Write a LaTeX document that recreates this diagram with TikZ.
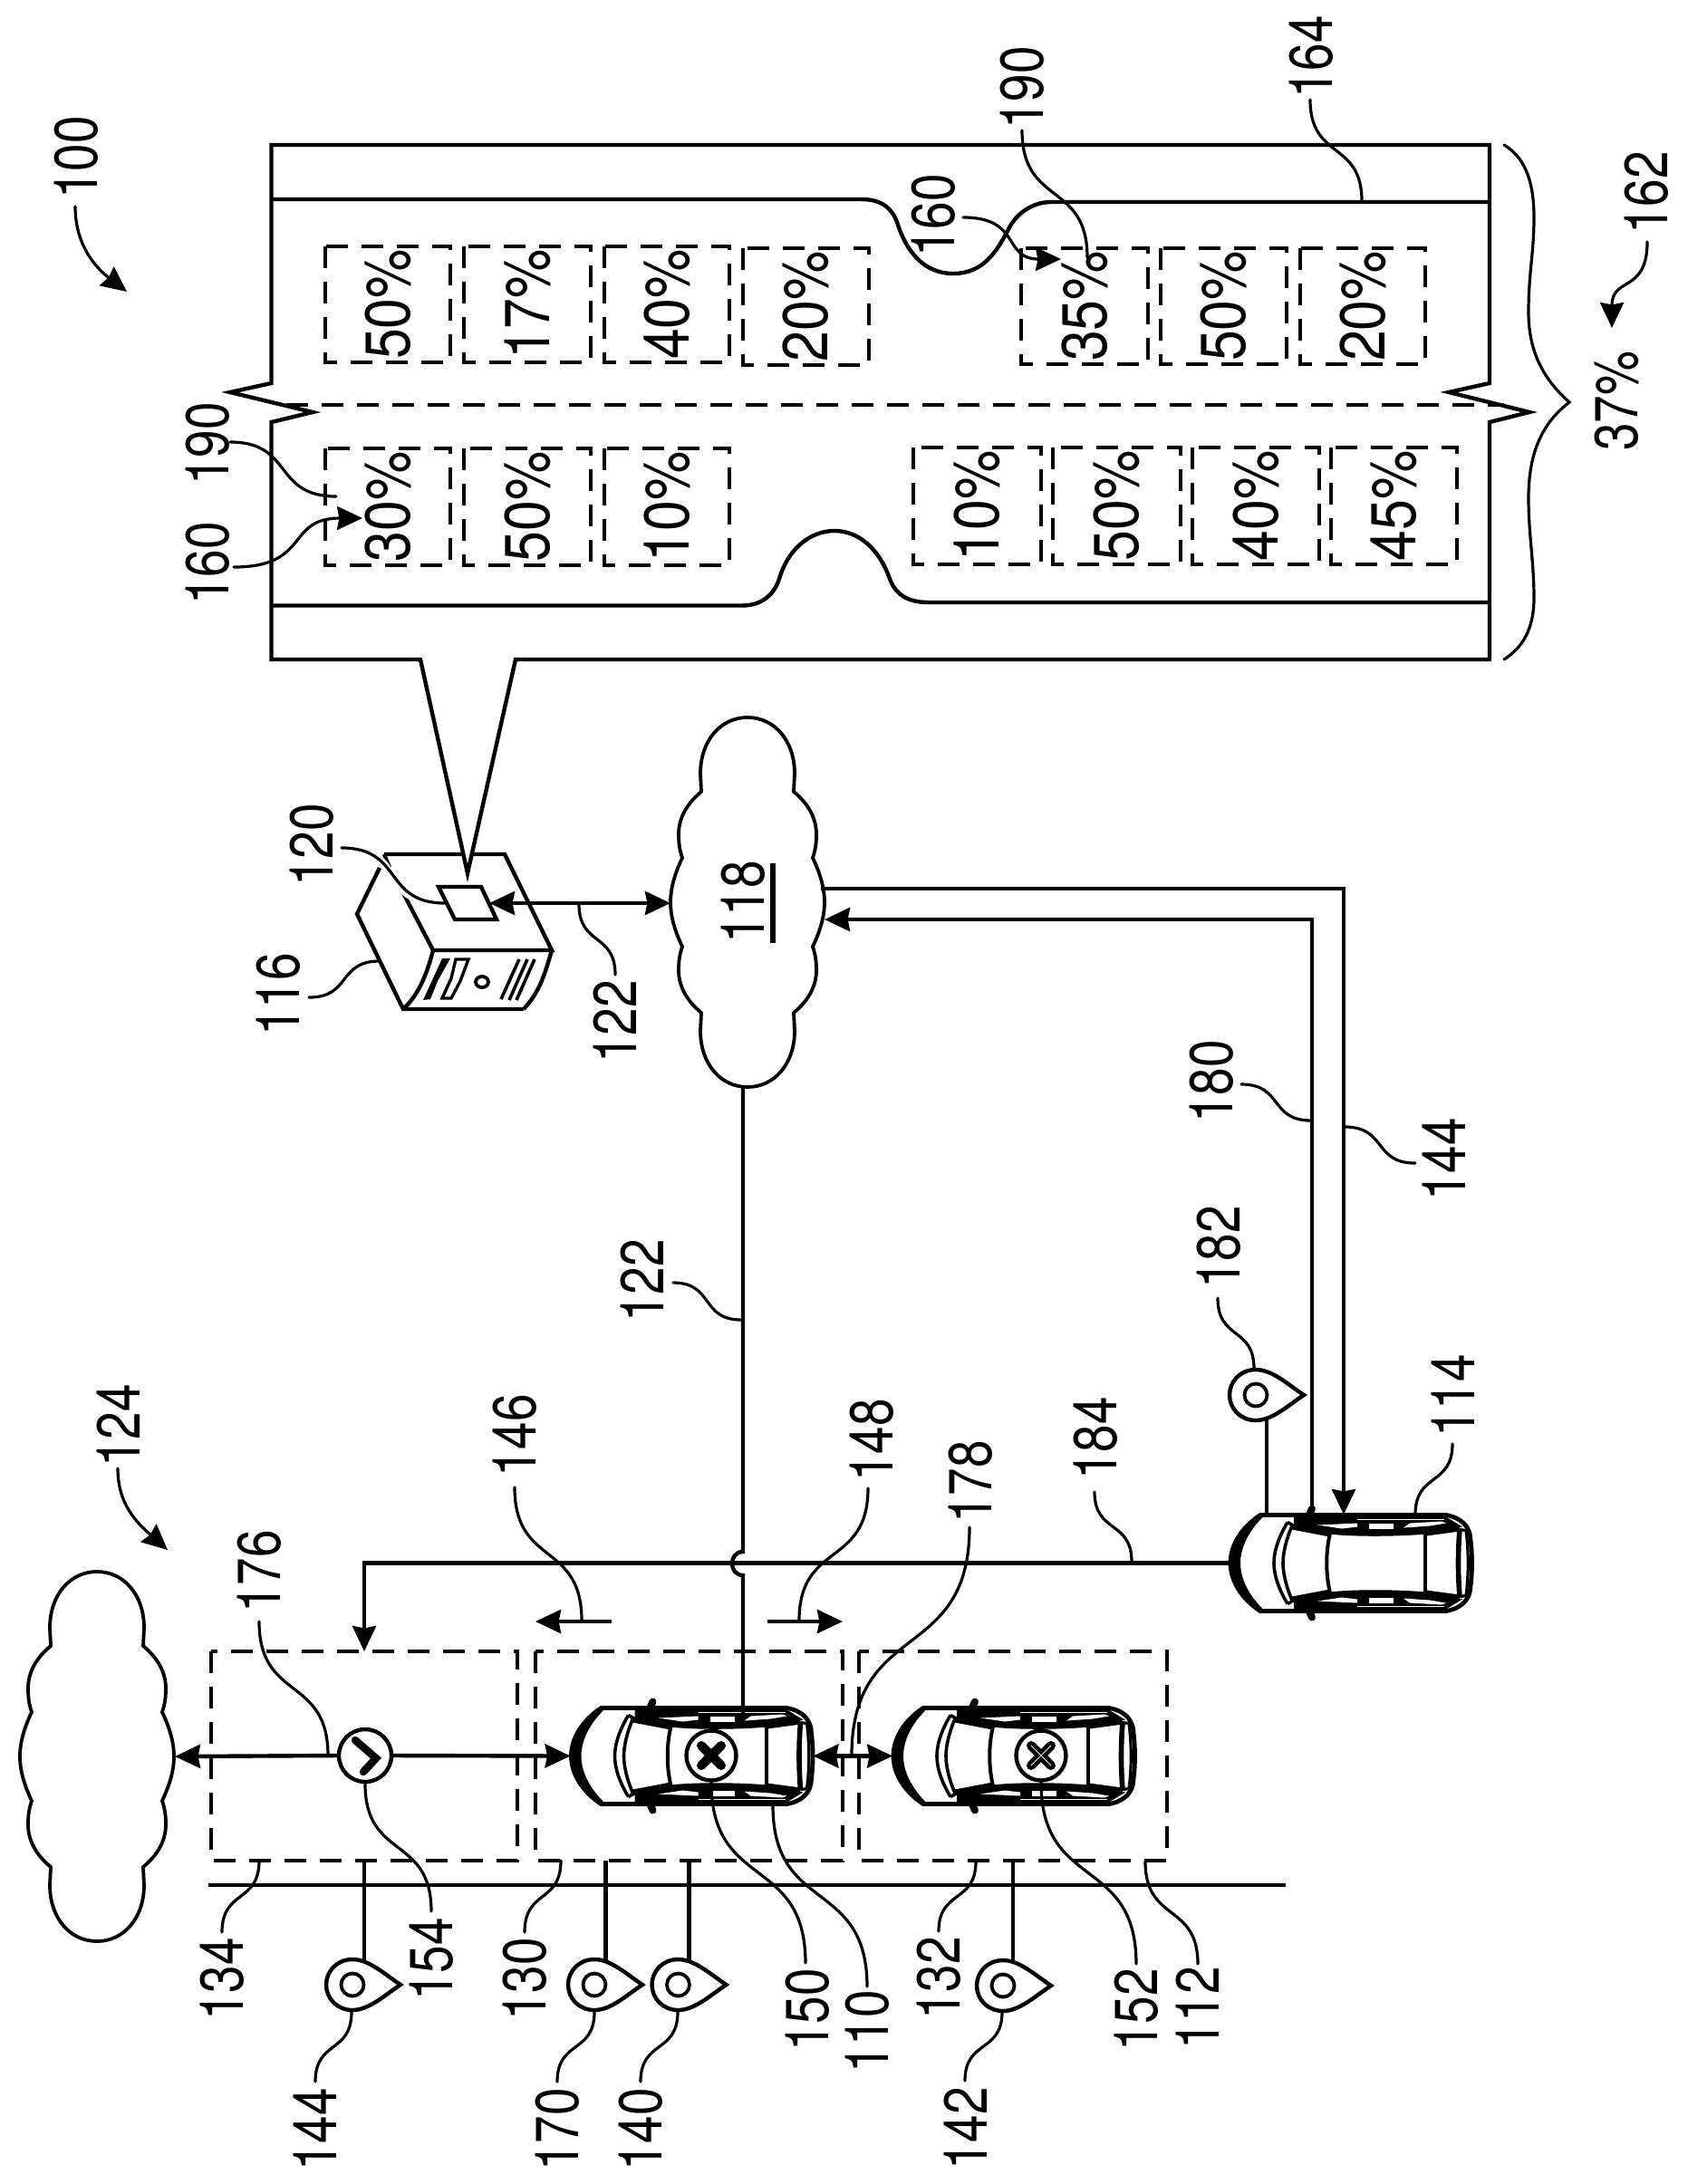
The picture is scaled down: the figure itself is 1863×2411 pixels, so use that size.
\documentclass[tikz,border=0pt]{standalone}
\usepackage{fontspec}
\setmainfont{TeX Gyre Heros}
\usetikzlibrary{arrows.meta,calc}
\newcommand\labtext[1]{\scalebox{0.82}[1]{#1}}
\newcommand\pcttext[1]{\scalebox{0.87}[1]{#1}}
% leader with tangents along y at both ends
\newcommand\vlead[4][lead]{\coordinate (#2a) at (#3);\coordinate (#2b) at (#4);
  \draw[#1] (#2a) .. controls ($(#2a)!.6!(#2a|-#2b)$) and ($(#2b)!.6!(#2b|-#2a)$) .. (#2b);}
% leader with tangents along x at both ends
\newcommand\hlead[4][lead]{\coordinate (#2a) at (#3);\coordinate (#2b) at (#4);
  \draw[#1] (#2a) .. controls ($(#2a)!.6!(#2a-|#2b)$) and ($(#2b)!.6!(#2b-|#2a)$) .. (#2b);}
\newcommand\lbl[3]{\node[lab] (#1) at (#2) {\labtext{#3}};}
\newcommand\pctbox[4]{\draw[dbox] (#2) rectangle (#3);\node[pct] (#1) at ($(#2)!.5!(#3)$) {\pcttext{#4}};}
\newcommand\stem[3]{\coordinate (#1a) at (#2);\coordinate (#1b) at (#3);\draw[conn] (#1a) -- (#1b);}
% one long side of a car, drawn in the car's own frame centred on (0,0)
\newcommand\carhalf[1]{%
  \begin{scope}[shift={(#1)}]
    \draw[line width=2.4pt,fill=white]
      (-100,-53) -- (105,-53) .. controls (122,-50) and (132,-40) .. (132,-25)
      .. controls (134,-10) and (134,10) .. (132,25) .. controls (132,40) and (122,50) .. (105,53)
      -- (-100,53) .. controls (-120,40) and (-133,20) .. (-133,0)
      .. controls (-133,-20) and (-120,-40) .. (-100,-53) -- cycle;
    \fill (-100,-53) .. controls (-120,-40) and (-133,-20) .. (-133,0)
      .. controls (-133,20) and (-120,40) .. (-100,53) -- (-98,50)
      .. controls (-112,36) and (-122,18) .. (-122,0)
      .. controls (-122,-18) and (-112,-36) .. (-98,-50) -- cycle;
    \carside{1}
    \carside{-1}
    \draw[line width=1.8pt] (-70,-45) .. controls (-82,-25) and (-85,-10) .. (-85,0)
       .. controls (-85,10) and (-82,25) .. (-70,45);
    \draw[line width=1.8pt] (-65,-41) .. controls (-72,-25) and (-75,-10) .. (-75,0)
       .. controls (-75,10) and (-72,25) .. (-65,41);
    \draw[line width=1.8pt] (-70,-45) -- (-63,-41) (-70,45) -- (-63,41);
    \draw[line width=2pt] (-23,-33) .. controls (-28,-12) and (-28,12) .. (-23,33);
    \draw[line width=2pt] (82,-33) -- (82,33);
    \draw[line width=2.8pt] (120,-37) .. controls (118,-12) and (118,12) .. (120,37);
    \draw[line width=1.6pt] (127,-36) .. controls (130,-12) and (130,12) .. (127,36);
    \draw[line width=1.6pt] (120,-37) -- (127,-36) (120,37) -- (127,36);
  \end{scope}}
\newcommand\carside[1]{%
  \begin{scope}[yscale=#1]
    \fill (-63,-51) -- (105,-51) -- (123,-40) -- (83,-32) .. controls (50,-29) and (0,-29) .. (-23,-32) -- (-63,-40) -- cycle;
    \fill[white] (-37,-42) -- (7,-44) -- (7,-40) -- (-10,-38) -- cycle;
    \fill[white] (20,-44) rectangle (47,-38);
    \fill[white] (58,-39) -- (65,-44) -- (100,-46) -- (105,-44) -- (87,-41) -- cycle;
    \draw[white,line width=.7pt] (7,-48) -- (103,-48);
    \draw[line width=4pt,line cap=round] (-43,-60) -- (-48,-49);
    \draw[line width=3pt] (-65,-40) -- (-23,-32);
    \draw[line width=3pt] (83,-33) -- (120,-38);
  \end{scope}}
\tikzset{
  x=0.5pt,y=-0.5pt,
  conn/.style={line width=2.2pt,line join=miter},
  lead/.style={line width=1.6pt,line cap=round},
  dbox/.style={line width=2.2pt,dash pattern=on 12pt off 7.5pt},
  lab/.style={rotate=90,inner sep=0pt,font=\fontsize{33.5}{36}\selectfont},
  pct/.style={rotate=90,inner sep=0pt,font=\fontsize{35}{38}\selectfont},
  head/.style={-{Stealth[length=14pt,width=13pt,inset=1.2pt]}},
  both/.style={{Stealth[length=14pt,width=13pt,inset=1.2pt]}-{Stealth[length=14pt,width=13pt,inset=1.2pt]}},
  carbox/.style={rectangle,inner sep=0pt,minimum width=133.5pt,minimum height=54.5pt},
  anchorbox/.style={rectangle,inner sep=0pt},
  cloudline/.style={line width=1.9pt},
  disc/.style={circle,draw,fill=white,line width=2.2pt,inner sep=0pt},
  pics/cloud/.style={code={
    \draw[cloudline,fill=white]
     (0,-204) .. controls (30,-204) and (52,-178) .. (52,-142) -- (51,-122)
     .. controls (68,-108) and (76,-92) .. (76,-75) .. controls (76,-65) and (75,-58) .. (72,-49)
     .. controls (80,-32) and (85,-16) .. (85,0) .. controls (85,16) and (80,32) .. (72,49)
     .. controls (75,58) and (76,65) .. (76,75) .. controls (76,92) and (68,108) .. (51,122)
     -- (52,142) .. controls (52,178) and (30,204) .. (0,204)
     .. controls (-30,204) and (-52,178) .. (-52,142) -- (-51,122)
     .. controls (-68,108) and (-76,92) .. (-76,75) .. controls (-76,65) and (-75,58) .. (-72,49)
     .. controls (-80,32) and (-85,16) .. (-85,0) .. controls (-85,-16) and (-80,-32) .. (-72,-49)
     .. controls (-75,-58) and (-76,-65) .. (-76,-75) .. controls (-76,-92) and (-68,-108) .. (-51,-122)
     -- (-52,-142) .. controls (-52,-178) and (-30,-204) .. (0,-204) -- cycle;
  }},
  pics/pin/.style={code={
    \draw[line width=2.2pt,fill=white,line join=miter]
     (53,0) .. controls (35,-12) and (18,-28) .. (0,-28) .. controls (-17,-28) and (-29,-15) .. (-29,0)
     .. controls (-29,15) and (-17,28) .. (0,28) .. controls (18,28) and (35,12) .. (53,0) -- cycle;
    \draw[line width=1.9pt] (0,0) circle[radius=12.5];
  }},
}
\begin{document}
\begin{tikzpicture}
\useasboundingbox (0,0) rectangle (1863,2411);

% ---------- road map callout ----------
\coordinate (tip) at (516,964);
\coordinate (sTL) at (424,943);
\coordinate (sTR) at (557,943);
\coordinate (sFR) at (609,1049);
\coordinate (sFL) at (478,1049);
\coordinate (sBL) at (445,1114);
\coordinate (sBR) at (578,1114);
\draw[conn,fill=white] (sTL) -- (sTR) -- (sFR) -- (sFL) -- (442,980);
\draw[conn] (sTL) -- (430,958);
\draw[conn] (419,958) -- (394,1009) -- (sBL) -- (sBR);
\draw[conn] (sFR) .. controls (600,1080) and (595,1095) .. (sBR);
\draw[conn] (sFL) .. controls (470,1080) and (460,1100) .. (sBL);
\fill (488,1058) -- (497,1058) -- (483,1083) -- (475,1103) -- (467,1104) -- (478,1080) -- cycle;
\draw[line width=1.7pt] (503,1059) -- (517,1059) -- (508,1083) -- (498,1102) -- (488,1102) -- (498,1080) -- cycle;
\draw[line width=1.9pt] (532,1084) circle[x radius=7,y radius=6];
\draw[line width=1.8pt] (573,1059) -- (553,1103) (582,1059) -- (562,1104) (590,1059) -- (570,1104);
\draw[conn,fill=white] (484,979) -- (531,979) -- (548,1015) -- (502,1015) -- cycle;

\draw[conn,fill=white] (464,728) -- (299.5,728) -- (299.5,466) -- (345,455) -- (254,433) -- (299.5,423)
  -- (299.5,160) -- (1644,160) -- (1644,423) -- (1599,433) -- (1688,455) -- (1644,466) -- (1644,728)
  -- (569,728) -- (tip) -- cycle;
% road edges
\draw[conn] (299.5,220) -- (951,220) .. controls (975,220) and (985,232) .. (990,245)
  .. controls (1000,278) and (1020,302) .. (1052,302) .. controls (1085,302) and (1100,278) .. (1113,253)
  .. controls (1122,235) and (1140,223) .. (1160,223) -- (1644,223);
\draw[conn] (299.5,668.5) -- (819,668.5) .. controls (842,668.5) and (855,655) .. (860,639)
  .. controls (870,605) and (895,586) .. (921,586) .. controls (947,586) and (970,605) .. (982,639)
  .. controls (988,655) and (1000,665) .. (1025,665) -- (1644,665);
\draw[dbox] (316,447) -- (1660,447);

\pctbox{p1}{359,272}{497,400}{50\%}
\pctbox{p2}{512,272}{652,400}{17\%}
\pctbox{p3}{667,272}{805,400}{40\%}
\pctbox{p4}{820,274}{959,403}{20\%}
\pctbox{p5}{1127,274}{1267,402}{35\%}
\pctbox{p6}{1281,274}{1420,402}{50\%}
\pctbox{p7}{1435,274}{1573,402}{20\%}
\pctbox{p8}{359,495}{497,624}{30\%}
\pctbox{p9}{512,495}{652,624}{50\%}
\pctbox{p10}{667,495}{805,624}{10\%}
\pctbox{p11}{1008,494}{1149,623}{10\%}
\pctbox{p12}{1162,494}{1303,623}{50\%}
\pctbox{p13}{1316,494}{1456,623}{40\%}
\pctbox{p14}{1469,494}{1608,623}{45\%}

% brace
\coordinate (brT) at (1660,160);
\coordinate (brB) at (1660,728);
\coordinate (brP) at (1732,444);
\draw[lead] (brT) .. controls (1680,172) and (1693,195) .. (1693,240)
  .. controls (1693,280) and (1687,300) .. (1687,345)
  .. controls (1687,390) and (1705,420) .. (brP)
  .. controls (1705,465) and (1687,495) .. (1687,550)
  .. controls (1687,590) and (1693,620) .. (1693,660)
  .. controls (1693,695) and (1680,715) .. (brB);

% ---------- clouds ----------
\node[anchorbox,minimum width=85pt,minimum height=102pt] (c118) at (825,996) {};
\pic at (c118.center) {cloud};
\node[anchorbox,minimum width=85pt,minimum height=102pt] (cL) at (107,1939) {};
\pic at (cL.center) {cloud};
\lbl{l118}{820,996}{118}
\draw[line width=2.6pt] (853,953) -- (853,1041);

% ---------- road strip and dashed zones ----------
\coordinate (roadA) at (230,2081);
\coordinate (roadB) at (1419,2081);
\draw[conn] (roadA) -- (roadB);
\draw[dbox] (233,1823) rectangle (571,2054);
\draw[dbox] (591,1823) rectangle (930,2054);
\draw[dbox] (948,1823) rectangle (1288,2054);

% ---------- cars ----------
\node[carbox] (car110) at (763.5,1938.5) {};
\node[carbox] (car112) at (1119,1938.5) {};
\node[carbox] (car114) at (1491,1725.5) {};

% connectors behind cars
\coordinate (v122top) at (820,1199);
\coordinate (v122bot) at (820,1897);
\draw[conn] (v122top) -- (820,1713) .. controls (804,1713) and (804,1739) .. (820,1739) -- (v122bot);
\coordinate (j184) at (402,1725.5);
\coordinate (e134) at (402,1823);
\draw[conn,head] (car114.west) -- (j184) -- (e134);
\coordinate (lineAcar) at (1448,1690);
\coordinate (lineAcorner) at (1448,1015);
\coordinate (lineAcloud) at (910,1015);
\draw[conn,head] (lineAcar) -- (lineAcorner) -- (lineAcloud);
\coordinate (lineBcloud) at (906,981);
\coordinate (lineBcorner) at (1483,981);
\coordinate (lineBcar) at (1483,1672);
\draw[conn,head] (lineBcloud) -- (lineBcorner) -- (lineBcar);

\carhalf{763.5,1938.5}
\carhalf{1119,1938.5}
\carhalf{1491,1725.5}
% line 122 enters the first car, line 180 the far car
\draw[conn] (820,1884) -- (v122bot);
\draw[conn,line cap=round] (1448,1664) -- (lineAcar);

% status discs
\node[disc,minimum size=29pt] (n154) at (403,1938) {};
\draw[line width=4.2pt,line cap=round,line join=miter] (392,1921) -- (415,1941) -- (401,1956);
\node[disc,minimum size=27.5pt] (n150) at (785,1938) {};
\draw[line width=5pt,line cap=round] (774,1927) -- (796,1949) (774,1949) -- (796,1927);
\node[disc,minimum size=27.5pt] (n152) at (1149,1938) {};
\draw[line width=5pt,line cap=round] (1138,1927) -- (1160,1949) (1138,1949) -- (1160,1927);
\draw[white,line width=.5pt] (1138,1927) -- (1160,1949) (1138,1949) -- (1160,1927);

% horizontal arrows along the lane
\coordinate (cLe) at (193,1939);
\draw[conn,head] (n154.west) -- (cLe);
\draw[conn,head] (n154.east) -- (car110.west);
\draw[conn,both] (car110.east) -- (car112.west);

% section markers
\coordinate (m146a) at (675,1790);
\coordinate (m146b) at (591,1790);
\draw[conn,head] (m146a) -- (m146b);
\coordinate (m148a) at (847,1790);
\coordinate (m148b) at (930,1790);
\draw[conn,head] (m148a) -- (m148b);

% server to cloud
\coordinate (srvArrow) at (540,997);
\coordinate (cldArrow) at (740,997);
\draw[conn,both] (srvArrow) -- (cldArrow);

% ---------- location pins ----------
\stem{s144}{402,2054}{402,2164}
\stem{s170}{668.5,2054}{668.5,2164}
\stem{s140}{760.5,2054}{760.5,2164}
\stem{s142}{1118,2054}{1118,2165}
\stem{s182}{1398,1568}{1398,1672}
\coordinate (pin144) at (389,2191);
\coordinate (pin170) at (656,2191);
\coordinate (pin140) at (748.5,2191);
\coordinate (pin142) at (1107,2192);
\coordinate (pin182) at (1386,1540);
\pic at (pin144) {pin};
\pic at (pin170) {pin};
\pic at (pin140) {pin};
\pic at (pin142) {pin};
\pic at (pin182) {pin};

% ---------- labels ----------
\lbl{l100}{84,174}{100}
\lbl{l124}{131,1574}{124}
\lbl{l116}{307,1098}{116}
\lbl{l120}{344,933}{120}
\lbl{l122a}{679,1128}{122}
\lbl{l122b}{709,1414}{122}
\lbl{l144a}{348,2351}{144}
\lbl{l134}{245,2185}{134}
\lbl{l154}{476,2163}{154}
\lbl{l130}{579,2185}{130}
\lbl{l170}{615,2351}{170}
\lbl{l140}{707,2351}{140}
\lbl{l150}{891,2219}{150}
\lbl{l110}{957,2243}{110}
\lbl{l132}{1036,2184}{132}
\lbl{l142}{1066,2350}{142}
\lbl{l152}{1254,2219}{152}
\lbl{l112}{1322,2217}{112}
\lbl{l176}{286,1735}{176}
\lbl{l146}{568,1585}{146}
\lbl{l148}{962,1590}{148}
\lbl{l178}{1071,1636}{178}
\lbl{l184}{1209,1588}{184}
\lbl{l182}{1345,1377}{182}
\lbl{l180}{1337.5,1194}{180}
\lbl{l144b}{1594,1280}{144}
\lbl{l114}{1604,1541}{114}
\lbl{l190a}{229,490}{190}
\lbl{l160a}{229,622}{160}
\lbl{l190b}{1128,97}{190}
\lbl{l160b}{1030,238}{160}
\lbl{l164}{1447,63}{164}
\lbl{l162}{1817,213}{162}
\lbl{l37}{1784,443}{37\%}

% ---------- leaders ----------
\vlead{a144}{348,2298}{388,2221}
\vlead{a134}{245,2133}{286,2054}
\vlead{a154}{476,2110}{n154.south}
\vlead{a130}{579,2133}{619,2054}
\vlead{a170}{615,2298}{656,2221}
\vlead{a140}{707,2298}{748,2221}
\vlead{a150}{889,2167}{n150.south}
\vlead{a110}{957,2193}{853,1993}
\vlead{a132}{1036,2132}{1077,2055}
\vlead{a142}{1065,2297}{1106,2221}
\vlead{a152}{1254,2168}{n152.south}
\vlead{a112}{1322,2168}{1264,2055}
\vlead{a176}{286,1790}{362,1938}
\vlead{a146}{568,1642}{642,1789}
\vlead{a148}{958,1643}{882,1789}
\vlead{a178}{1070,1686}{940,1938}
\vlead{a184}{1208,1647}{1249,1724}
\vlead{a182}{1344,1433}{1384,1511}
\vlead{a114}{1603,1594}{1562,1672}
\vlead{a164}{1446,110}{1503,222}
\vlead{a122a}{679,1076}{639,998}
\hlead{a122b}{743,1416}{818,1457}
\hlead{a180}{1370,1197}{1447,1237}
\hlead{a144r}{1562,1284}{1484,1244}
\hlead{a116}{341,1101}{419,1061}
\hlead[line width=4.5pt,white]{a120h}{385,938}{480,995}
\hlead{a120}{377,936}{491,997}
\hlead{a190a}{254,488}{371,548}
\hlead[lead,head]{a160a}{258,626}{400,572}
\vlead{a190b}{1128,144}{1200,284}
\hlead[lead,head]{a160b}{1063,240}{1171,286}
\vlead[lead,head]{a162}{1818,267}{1779,362}
\coordinate (a100a) at (83,228);
\coordinate (a100b) at (140,322);
\draw[lead,head] (a100a) .. controls (83,270) and (105,295) .. (a100b);
\coordinate (a124a) at (130,1621);
\coordinate (a124b) at (185,1711);
\draw[lead,head] (a124a) .. controls (130,1660) and (150,1680) .. (a124b);
\end{tikzpicture}
\end{document}
